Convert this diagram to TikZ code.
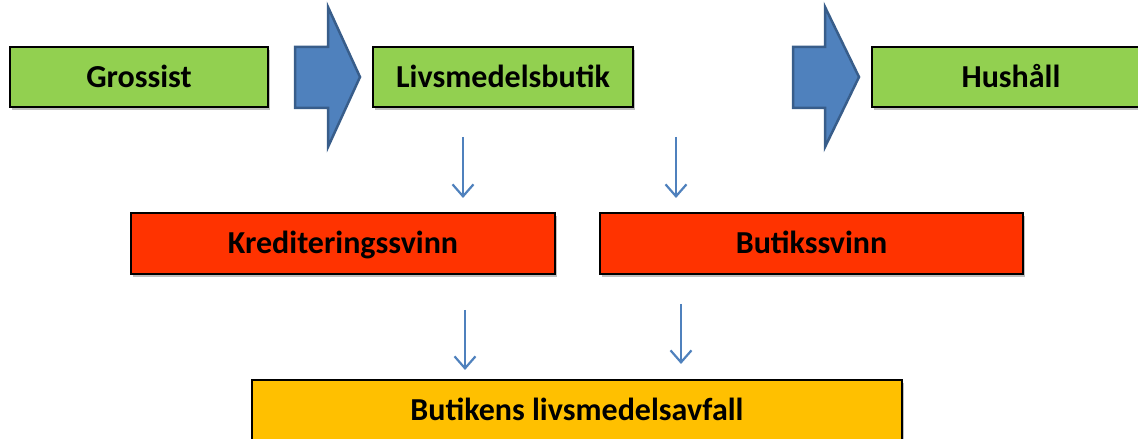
\documentclass[tikz,border=0pt]{standalone}
\usepackage{fontspec}
\setmainfont{Carlito}
\usetikzlibrary{positioning,shadows,arrows.meta}

\definecolor{gron}{HTML}{92D050}
\definecolor{rod}{HTML}{FF3300}
\definecolor{gul}{HTML}{FFC000}
\definecolor{bla}{HTML}{4F81BD}
\definecolor{blakant}{HTML}{385D8A}

\begin{document}
\begin{tikzpicture}[x=1pt,y=1pt,
	box/.style={draw=black,line width=1.3pt,minimum height=60pt,inner sep=0pt,
		text height=20.5pt,text depth=0pt,
		font=\fontsize{32}{38}\selectfont\bfseries,
		drop shadow={shadow xshift=2pt,shadow yshift=-3pt,opacity=.25,fill=black}},
	pil/.style={draw=blakant,fill=bla,line width=2.5pt,line join=miter},
	tunnpil/.style={bla,line width=2.2pt,-{Straight Barb[length=12pt,width=21pt,line width=2.2pt]}}
	]
	\useasboundingbox (0,0) rectangle (1138,439);
	
	% top row
	\node[box,fill=gron,minimum width=258pt] (grossist) at (139,362) {Grossist};
	\node[box,fill=gron,minimum width=260pt] (butik) at (503,362) {Livsmedelsbutik};
	\node[box,fill=gron,minimum width=278pt] (hushall) at (1011,362) {Hushåll};
	
	% block arrows
	\draw[pil] (295,392) -- (328,392) -- (328,432) -- (360,362) -- (328,292) -- (328,331) -- (295,331) -- cycle;
	\draw[pil] (793,392) -- (825,392) -- (825,432) -- (859,362) -- (825,292) -- (825,331) -- (793,331) -- cycle;
	
	% svinn
	\node[box,fill=rod,minimum width=424pt,minimum height=61pt] (kred) at (343,195.5) {Krediteringssvinn};
	\node[box,fill=rod,minimum width=423pt,minimum height=61pt] (butsvinn) at (811.5,195.5) {Butikssvinn};
	
	% avfall
	\node[box,fill=gul,minimum width=650pt,minimum height=61pt] (avfall) at (577,28.5) {Butikens livsmedelsavfall};
	
	\coordinate (k1) at (463,302);
	\coordinate (k2) at (463,241);
	\coordinate (b1) at (676,302);
	\coordinate (b2) at (676,241);
	\coordinate (k3) at (465,129);
	\coordinate (k4) at (465,69);
	\coordinate (b3) at (681,135);
	\coordinate (b4) at (681,75);
	
	\draw[tunnpil] (k1) -- (k2);
	\draw[tunnpil] (b1) -- (b2);
	\draw[tunnpil] (k3) -- (k4);
	\draw[tunnpil] (b3) -- (b4);
	
\end{tikzpicture}
\end{document}
